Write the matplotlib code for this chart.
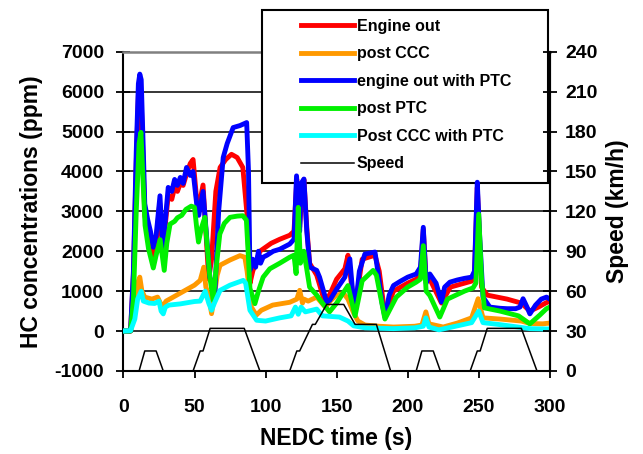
import matplotlib
matplotlib.use("Agg")
import matplotlib.pyplot as plt
from matplotlib.patches import Rectangle

plt.rcParams['font.family'] = ['Liberation Sans', 'DejaVu Sans']
plt.rcParams['font.weight'] = 'bold'
plt.rcParams['axes.unicode_minus'] = False

# HC traces (time in s, concentration in ppm)
t_eo = [0, 5, 7, 9, 10.5, 11.5, 12.5, 14, 15, 17, 19, 21, 23, 25.5, 27.5, 29, 31.5, 34, 36, 38,
        40, 42, 44.5, 47, 49, 51.5, 53, 56, 58, 60, 62, 65, 68, 72, 76, 80, 84, 87, 89, 91,
        96, 104, 110, 117, 120, 122, 124, 125.5, 127, 129, 131, 136, 141, 145, 150, 155.8, 158,
        161, 163, 168, 177, 180, 184, 190, 200, 206, 209, 211, 213, 215.6, 223.8, 230, 245, 247,
        249, 250.5, 252, 256, 270, 280, 286, 292, 297, 300]
engine_out = [0, 0, 1400, 4200, 5900, 6050, 5800, 4000, 2900, 2500, 2000, 1770, 2200, 3200, 2100,
              2500, 3400, 3300, 3600, 3500, 3700, 3650, 3950, 4200, 4300, 3300, 3100, 3660, 2500,
              1300, 1800, 3500, 4100, 4300, 4430, 4350, 4100, 2900, 1190, 1500, 2000, 2200, 2300,
              2400, 2500, 3800, 2600, 3400, 3800, 2600, 1700, 1400, 800, 900, 1300, 1560, 1900,
              1000, 600, 1800, 1900, 1500, 400, 1000, 1200, 1300, 1400, 2550, 1300, 1300, 700,
              1100, 1250, 1400, 3600, 2400, 1100, 900, 800, 700, 500, 600, 700, 750]

t_ccc = [0, 5, 8, 10, 11.5, 13, 15, 20, 24, 26, 27.5, 30, 40, 50, 54, 56.5, 58, 60, 62, 64, 66,
         68, 75, 82, 85.4, 87, 90, 93.5, 97, 105, 117, 122, 124, 126, 127, 130, 136, 142, 146,
         150, 155, 158, 162, 165, 170, 180, 190, 205, 210, 212.8, 215, 225, 235, 245, 249.6,
         253, 265, 280, 286, 295, 300]
post_ccc = [0, 0, 500, 1200, 1350, 1000, 850, 800, 850, 700, 600, 750, 950, 1150, 1270, 1600,
            1100, 900, 435, 900, 1400, 1650, 1780, 1890, 1850, 1500, 600, 400, 520, 650, 720,
            800, 1020, 700, 800, 750, 850, 600, 770, 900, 940, 800, 450, 250, 150, 120, 100, 120,
            150, 480, 180, 100, 200, 330, 810, 330, 300, 250, 190, 180, 200]

t_ptc = [0, 5, 7, 9, 10.5, 11.5, 12.5, 14, 15, 17, 19, 21, 23, 25.7, 27.6, 29, 31.5, 34, 36, 38,
         40, 42, 44.4, 47, 49, 51.5, 53, 56, 58, 60.8, 63, 64.4, 67, 70.2, 73, 77.2, 82, 86.7, 88,
         89, 91, 93, 95, 96.5, 98.3, 101, 105.4, 110, 117, 120, 121.8, 124, 125, 127, 129, 131.2,
         136, 138, 143, 145.2, 150, 155.8, 159.3, 161, 162.8, 166, 169.9, 177, 179, 182, 184, 187,
         190, 195, 200, 206, 209, 211, 213, 215.6, 220, 223.8, 226, 229.7, 235, 240, 245, 247,
         249, 250.5, 253, 257.8, 265, 270, 276, 279, 281.2, 284, 286, 290, 294, 297.7, 300]
engine_ptc = [0, 0, 1500, 4500, 6200, 6440, 6300, 4500, 3190, 2800, 2500, 2100, 2400, 3390, 2100,
              2600, 3600, 3500, 3800, 3650, 3850, 3700, 4100, 3900, 4000, 3190, 2900, 3500, 2600,
              1350, 1100, 1000, 3000, 4350, 4700, 5100, 5150, 5225, 4000, 1520, 1800, 1600, 2000,
              1700, 1850, 1900, 2000, 2050, 2180, 2300, 3890, 2500, 3700, 3810, 2500, 1600, 1520,
              1350, 725, 770, 1050, 1350, 1810, 1100, 440, 1500, 1930, 1980, 1500, 700, 350, 900,
              1140, 1250, 1350, 1430, 1600, 2600, 1200, 1430, 1200, 725, 1100, 1225, 1280, 1320,
              1350, 1500, 3730, 2500, 850, 600, 570, 560, 560, 600, 810, 600, 430, 650, 800, 850,
              800]

t_post_ptc = [0, 5, 7, 9, 11, 12.3, 13.5, 15.2, 17.6, 21, 23, 25.8, 28.7, 30.5, 32.8, 36, 38, 41,
              44, 47.7, 50, 51.5, 52.8, 55, 57.3, 59, 60.8, 63.2, 65, 67.8, 71, 75, 80, 84, 86.5,
              88, 89, 92.5, 95, 98.3, 103, 110, 117, 120, 121.5, 123, 124.5, 127, 131, 136, 140,
              145, 150, 158, 163, 168, 175.7, 178, 184, 192, 200, 206, 209, 211, 213, 215.6,
              222.6, 228, 240, 246, 248, 250, 252, 254, 265, 278, 286, 293, 297.7, 300]
post_ptc = [0, 0, 800, 3000, 4700, 4980, 4000, 2650, 2070, 1580, 1900, 2290, 1520, 2200, 2680,
            2750, 2840, 2900, 3050, 3130, 3100, 2600, 2230, 2600, 2850, 2100, 1350, 770, 1500,
            2430, 2700, 2850, 2880, 2890, 2780, 1800, 1070, 685, 1000, 1350, 1560, 1700, 1850,
            1900, 1440, 3100, 1700, 2000, 1100, 900, 700, 480, 700, 1140, 380, 1260, 1520, 1400,
            300, 850, 1100, 1225, 1300, 2140, 1000, 890, 350, 800, 1000, 1080, 1200, 2930, 1300,
            580, 500, 380, 180, 400, 560, 600]

t_ccc_ptc = [0, 5, 8, 10, 12.5, 14, 18, 22, 25, 26.5, 28, 29.5, 32, 40, 50, 54, 57.5, 60, 62,
             64, 68, 75, 84.3, 86, 89, 93.7, 100, 110, 118, 121, 123, 125, 128, 136, 140, 152,
             158, 162, 170, 190, 205, 211, 212.8, 215, 222, 235, 245, 250, 253, 265, 286, 300]
post_ccc_ptc = [0, 10, 300, 800, 1000, 750, 700, 690, 750, 500, 430, 600, 650, 680, 740, 750,
                1000, 700, 520, 700, 1020, 1150, 1270, 1200, 520, 270, 250, 330, 380, 600, 420,
                600, 480, 550, 380, 350, 250, 130, 80, 60, 80, 120, 330, 100, 30, 130, 210, 500,
                210, 160, 60, 50]

# NEDC urban speed trace (km/h)
t_speed = [0, 11, 15, 23, 28, 49, 54, 56, 61, 85, 96, 117, 122, 124, 133, 135, 143, 155, 163,
           176, 178, 188, 206, 210, 218, 223, 244, 249, 251, 256, 280, 291, 300]
speed = [0, 0, 15, 15, 0, 0, 15, 15, 32, 32, 0, 0, 15, 15, 35, 35, 50, 50, 35,
         35, 35, 0, 0, 15, 15, 0, 0, 15, 15, 32, 32, 0, 0]

fig = plt.figure(figsize=(6.43, 4.54), dpi=100)
ax = fig.add_axes([0.192, 0.183, 0.663, 0.703])
ax2 = ax.twinx()

for y in range(0, 7000, 1000):
    ax.axhline(y, color='black', lw=1.1, zorder=1)

lw = 3.5
l1, = ax.plot(t_eo, engine_out, color='#FF0000', lw=lw, label='Engine out', zorder=3)
l2, = ax.plot(t_ccc, post_ccc, color='#FF9900', lw=lw, label='post CCC', zorder=3)
l3, = ax.plot(t_ptc, engine_ptc, color='#0000FF', lw=lw, label='engine out with PTC', zorder=3)
l4, = ax.plot(t_post_ptc, post_ptc, color='#00F000', lw=lw, label='post PTC', zorder=3)
l5, = ax.plot(t_ccc_ptc, post_ccc_ptc, color='#00FFFF', lw=lw, label='Post CCC with PTC', zorder=3)
l6, = ax2.plot(t_speed, speed, color='black', lw=1.1, label='Speed')

ax.set_xlim(0, 300)
ax.set_ylim(-1000, 7000)
ax2.set_ylim(0, 240)
ax.set_xticks(range(0, 301, 50))
ax.set_yticks(range(-1000, 7001, 1000))
ax2.set_yticks(range(0, 241, 30))

ax.tick_params(axis='x', direction='out', length=5, width=1.3, labelsize=14, pad=15)
ax.tick_params(axis='y', direction='inout', length=10, width=1.3, labelsize=14, pad=9)
ax2.tick_params(axis='y', direction='inout', length=10, width=1.3, labelsize=14, pad=6)

for s in ('left', 'right', 'bottom'):
    ax.spines[s].set_linewidth(1.5)
    ax.spines[s].set_color('black')
ax.spines['top'].set_color('#808080')
ax.spines['top'].set_linewidth(1.8)
ax2.spines['right'].set_linewidth(1.5)
for s in ('top', 'left', 'bottom'):
    ax2.spines[s].set_visible(False)

ax.set_xlabel('NEDC time (s)', fontsize=16.5, fontweight='bold', labelpad=8)
ax.set_ylabel('HC concentrations (ppm)', fontsize=16.5, fontweight='bold', labelpad=8)
ax2.set_ylabel('Speed (km/h)', fontsize=16.5, fontweight='bold', labelpad=6)

# legend frame above the plot area: covers the gridlines, the traces stay on top
box = Rectangle((262 / 643, 1 - 183 / 454), 286 / 643, 173 / 454,
                transform=fig.transFigure, facecolor='white', edgecolor='black',
                lw=1.5, zorder=2.7, clip_on=False)
ax.add_patch(box)
leg = fig.legend(handles=[l1, l2, l3, l4, l5, l6], loc='upper left',
                 bbox_to_anchor=(293 / 643, 0.976), frameon=False, borderpad=0,
                 handlelength=3.3, handletextpad=0.2, labelspacing=0.78,
                 prop={'weight': 'bold', 'size': 11.5})

fig.savefig('out.png', dpi=100)
